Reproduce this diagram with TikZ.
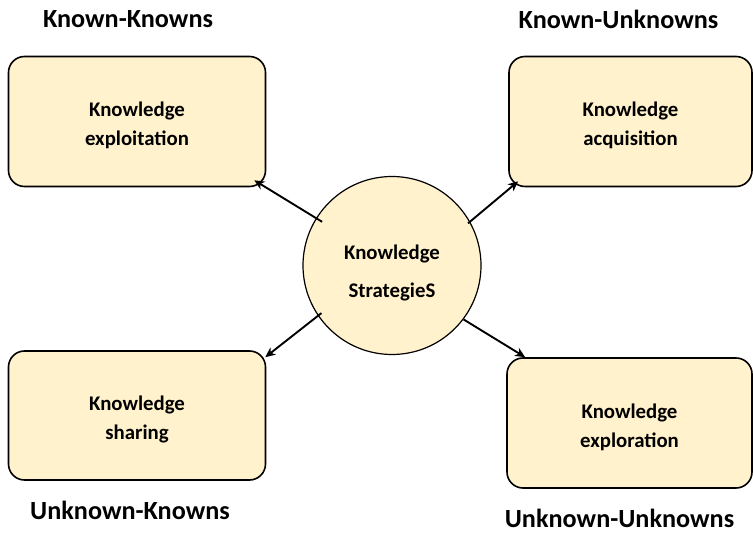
\documentclass[tikz,border=0pt]{standalone}
\usepackage{fontspec}
\setmainfont{Carlito}
\usetikzlibrary{arrows.meta,calc}
\definecolor{cream}{HTML}{FFF2CC}
% taller first line, so the two lines sit a little below the box centre
\newcommand\boxgap{\rule{0pt}{23pt}}
\tikzset{
  quad/.style={draw=black, line width=1.6pt, fill=cream, rounded corners=16pt,
    align=center, inner sep=0pt, font=\fontsize{20.8}{29}\selectfont\bfseries},
  hub/.style={circle, draw=black, line width=1.2pt, fill=cream, minimum size=178pt,
    inner sep=0pt},
  hubtext/.style={align=center, font=\fontsize{20.8}{38}\selectfont\bfseries},
  corner/.style={font=\fontsize{26.2}{30}\selectfont\bfseries, inner sep=0pt},
  link/.style={line width=1.9pt, -{Stealth[length=10pt,width=9pt,inset=3pt]}}
}
\begin{document}
\begin{tikzpicture}[x=1pt,y=-1pt]
\useasboundingbox (0,0) rectangle (753,534);

% the four strategy boxes
\node[quad, minimum width=257pt, minimum height=130pt] (exploit) at (137,121.5) {\boxgap Knowledge\\exploitation};
\node[quad, minimum width=243pt, minimum height=130pt] (acquire) at (630.5,121.5) {\boxgap Knowledge\\acquisition};
\node[quad, minimum width=257pt, minimum height=129pt] (share) at (137,415.5) {\boxgap Knowledge\\sharing};
\node[quad, minimum width=245pt, minimum height=130pt] (explore) at (629.5,423) {\boxgap Knowledge\\exploration};

% central circle
\node[hub] (hub) at (392,265.5) {};
\node[hubtext] (hubl) at (392,273) {Knowledge\\StrategieS};

% quadrant captions
\node[corner] (kk) at (128,19) {Known-Knowns};
\node[corner] (ku) at (618.5,19) {Known-Unknowns};
\node[corner] (uk) at (130,510) {Unknown-Knowns};
\node[corner] (uu) at (619.5,518.5) {Unknown-Unknowns};

% arrows from the circle to each box
\draw[link] ($(hub.center)!0.92!(hub.148.7)$) -- ($(exploit.south east)+(-12,-7)$);
\draw[link] ($(hub.center)!0.97!(hub.29.2)$) -- ($(acquire.south west)+(10,-6)$);
\draw[link] ($(hub.center)!0.95!(hub.214)$) -- ($(share.north east)+(-1,7)$);
\draw[link] (hub.323.7) -- ($(explore.north west)+(19,0)$);
\end{tikzpicture}
\end{document}
